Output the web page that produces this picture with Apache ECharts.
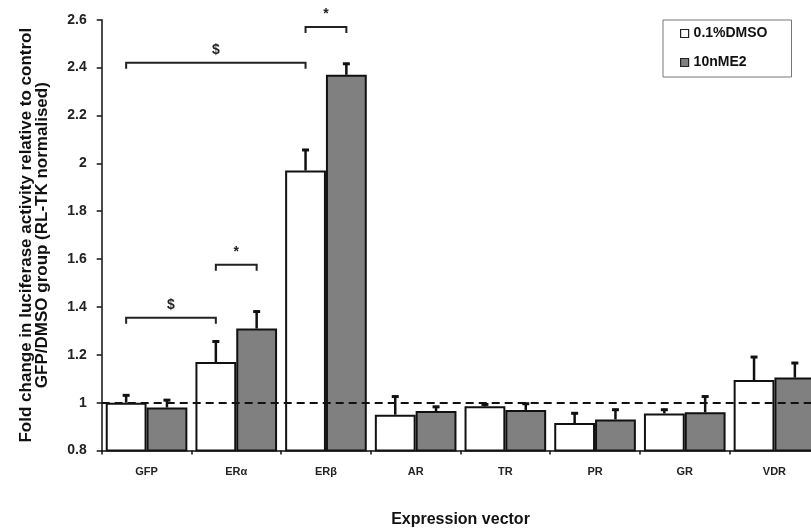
<!DOCTYPE html>
<html><head><meta charset="utf-8">
<script src="https://cdn.jsdelivr.net/npm/echarts@6/dist/echarts.min.js"></script>
<style>html,body{margin:0;padding:0;background:#fff}#c{width:811px;height:530px}</style>
</head><body><div id="c"></div>
<script>
var categories = ['GFP', 'ERα', 'ERβ', 'AR', 'TR', 'PR', 'GR', 'VDR'];
var seriesNames = ['0.1%DMSO', '10nME2'];
var dmso = [1.00, 1.17, 1.97, 0.95, 0.985, 0.915, 0.955, 1.095];
var dmsoErr = [0.035, 0.09, 0.09, 0.08, 0.012, 0.045, 0.02, 0.10];
var e2 = [0.98, 1.31, 2.37, 0.965, 0.97, 0.93, 0.96, 1.105];
var e2Err = [0.035, 0.075, 0.05, 0.022, 0.03, 0.045, 0.07, 0.065];
var yTicks = [0.8, 1, 1.2, 1.4, 1.6, 1.8, 2, 2.2, 2.4, 2.6];
var refLine = 1;
// significance brackets: start category/series, end category/series, height, mark
var brStartCat = [0, 2, 0, 1];
var brStartSer = [0, 0, 0, 0];
var brEndCat = [2, 2, 1, 1];
var brEndSer = [0, 1, 0, 1];
var brY = [2.42, 2.57, 1.355, 1.576];
var brMark = ['$', '*', '$', '*'];

var GAP = 0.09;
function barCenter(api, cat, ser, yv) {
  var p = api.coord([cat, yv]);
  var band = api.size([1, 0])[0];
  var bw = band * (1 - GAP) / 2;
  return [p[0] + (ser === 0 ? -bw / 2 : bw / 2), p[1]];
}
function errSeries(vals, errs, ser) {
  return {
    type: 'custom', z: 5, clip: false, silent: true,
    data: vals.map(function (v, i) { return [i, v, errs[i]]; }),
    encode: { x: 0, y: 1 },
    renderItem: function (params, api) {
      var c = api.value(0), v = api.value(1), e = api.value(2);
      var p0 = barCenter(api, c, ser, v);
      var p1 = barCenter(api, c, ser, v + e);
      return { type: 'group', children: [
        { type: 'line', shape: { x1: p0[0], y1: p0[1], x2: p1[0], y2: p1[1] }, style: { stroke: '#111', lineWidth: 2.5 } },
        { type: 'line', shape: { x1: p1[0] - 3.5, y1: p1[1] + 1, x2: p1[0] + 3.5, y2: p1[1] + 1 }, style: { stroke: '#111', lineWidth: 3 } }
      ] };
    }
  };
}
var chart = echarts.init(document.getElementById('c'));
chart.setOption({
  animation: false,
  backgroundColor: '#fff',
  grid: { left: 101.7, top: 19.7, width: 717.6, height: 430.9, containLabel: false, outerBoundsMode: 'none' },
  legend: {
    data: seriesNames, orient: 'vertical', left: 663, top: 20, icon: 'rect',
    padding: [6, 24, 7, 17], itemGap: 14, itemWidth: 8, itemHeight: 8,
    borderColor: '#777', borderWidth: 1,
    textStyle: { fontFamily: 'Liberation Sans', fontWeight: 'bold', fontSize: 14, lineHeight: 15, color: '#111' },
    itemStyle: { borderColor: '#222', borderWidth: 1.2 }
  },
  xAxis: {
    type: 'category', data: categories,
    name: 'Expression vector', nameLocation: 'middle', nameGap: 61,
    nameTextStyle: { fontFamily: 'Liberation Sans', fontWeight: 'bold', fontSize: 16, color: '#111' },
    axisLine: { lineStyle: { color: '#111', width: 1.5 } },
    axisTick: { show: true, alignWithLabel: false, length: 4, lineStyle: { color: '#111', width: 1.5 } },
    axisLabel: { margin: 16, fontFamily: 'Liberation Sans', fontWeight: 'bold', fontSize: 11, color: '#222' }
  },
  yAxis: {
    type: 'value', min: yTicks[0], max: yTicks[yTicks.length - 1], interval: 0.2,
    name: 'Fold change in luciferase activity relative to control\nGFP/DMSO group (RL-TK normalised)',
    nameLocation: 'middle', nameRotate: 90, nameGap: 51,
    nameTextStyle: { fontFamily: 'Liberation Sans', fontWeight: 'bold', fontSize: 17, lineHeight: 16, color: '#111' },
    splitLine: { show: false },
    axisLine: { show: true, lineStyle: { color: '#111', width: 1.5 } },
    axisTick: { show: true, length: 5, lineStyle: { color: '#111', width: 1.5 } },
    axisLabel: { margin: 15, fontFamily: 'Liberation Sans', fontWeight: 'bold', fontSize: 14, color: '#222' }
  },
  series: [
    {
      name: seriesNames[0], type: 'bar', data: dmso, barGap: '0%', barCategoryGap: (GAP * 100) + '%',
      itemStyle: { color: '#ffffff', borderColor: '#111', borderWidth: 2 },
      markLine: {
        silent: true, symbol: 'none', z: 10,
        lineStyle: { color: '#111', type: [8, 5], width: 2 },
        label: { show: false },
        data: [{ yAxis: refLine }]
      }
    },
    {
      name: seriesNames[1], type: 'bar', data: e2,
      itemStyle: { color: '#808080', borderColor: '#111', borderWidth: 2 }
    },
    errSeries(dmso, dmsoErr, 0),
    errSeries(e2, e2Err, 1),
    {
      type: 'custom', z: 6, clip: false, silent: true,
      data: brY.map(function (y, i) { return [brStartCat[i], y, brEndCat[i], brStartSer[i], brEndSer[i]]; }),
      encode: { x: 0, y: 1 },
      renderItem: function (params, api) {
        var i = params.dataIndex;
        var a = barCenter(api, api.value(0), api.value(3), api.value(1));
        var b = barCenter(api, api.value(2), api.value(4), api.value(1));
        return { type: 'group', children: [
          { type: 'polyline', shape: { points: [[a[0], a[1] + 6], [a[0], a[1]], [b[0], b[1]], [b[0], b[1] + 6]] },
            style: { stroke: '#222', lineWidth: 2, fill: null } },
          { type: 'text', x: (a[0] + b[0]) / 2, y: a[1] - 13,
            style: { text: brMark[i], fill: '#222', font: 'bold 14px "Liberation Sans"', align: 'center', verticalAlign: 'middle' } }
        ] };
      }
    }
  ]
});
</script></body></html>
